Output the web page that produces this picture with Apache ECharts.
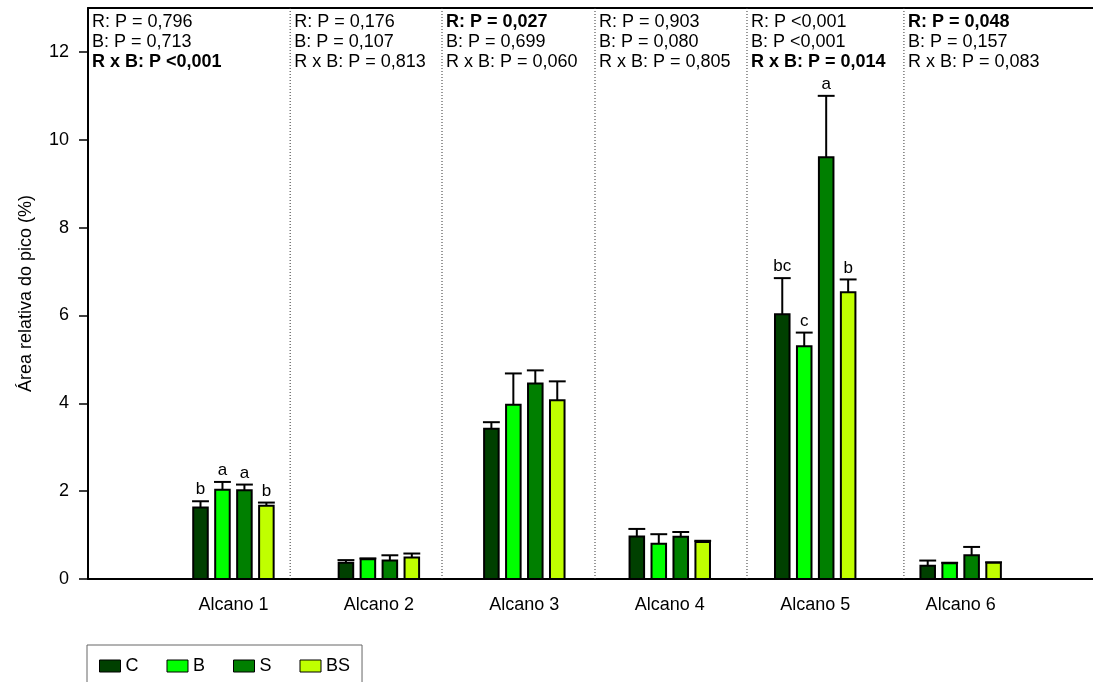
<!DOCTYPE html>
<html>
<head>
<meta charset="utf-8">
<script src="https://cdn.jsdelivr.net/npm/echarts@6/dist/echarts.min.js"></script>
<style>
  html, body { margin: 0; padding: 0; background: #fff; }
  #chart { width: 1093px; height: 682px; }
</style>
</head>
<body>
<div id="chart"></div>
<script>
// ---- data ----
const categories = ['Alcano 1', 'Alcano 2', 'Alcano 3', 'Alcano 4', 'Alcano 5', 'Alcano 6'];
const groups = ['C', 'B', 'S', 'BS'];

const meanC  = [1.63, 0.37, 3.42, 0.97, 6.03, 0.30];
const errC   = [0.14, 0.06, 0.15, 0.17, 0.82, 0.12];
const letterC  = ['b', '', '', '', 'bc', ''];

const meanB  = [2.03, 0.45, 3.97, 0.80, 5.30, 0.36];
const errB   = [0.18, 0.02, 0.71, 0.22, 0.31, 0.01];
const letterB  = ['a', '', '', '', 'c', ''];

const meanS  = [2.02, 0.42, 4.45, 0.96, 9.60, 0.54];
const errS   = [0.13, 0.12, 0.30, 0.11, 1.40, 0.19];
const letterS  = ['a', '', '', '', 'a', ''];

const meanBS = [1.67, 0.49, 4.07, 0.845, 6.53, 0.37];
const errBS  = [0.07, 0.09, 0.43, 0.025, 0.29, 0.01];
const letterBS = ['b', '', '', '', 'b', ''];

const pR   = ['R: P = 0,796', 'R: P = 0,176', 'R: P = 0,027', 'R: P = 0,903', 'R: P <0,001', 'R: P = 0,048'];
const pB   = ['B: P = 0,713', 'B: P = 0,107', 'B: P = 0,699', 'B: P = 0,080', 'B: P <0,001', 'B: P = 0,157'];
const pRxB = ['R x B: P <0,001', 'R x B: P = 0,813', 'R x B: P = 0,060', 'R x B: P = 0,805', 'R x B: P = 0,014', 'R x B: P = 0,083'];
const boldR   = [false, false, true, false, false, true];
const boldB   = [false, false, false, false, false, false];
const boldRxB = [true, false, false, false, true, false];

const yTicks = [0, 2, 4, 6, 8, 10, 12];

// ---- layout / style ----
const X_MIN = 0, X_MAX = 6.91, Y_MAX = 13;
const REGION_EDGES = [0, 1.39, 2.434, 3.486, 4.531, 5.61];
const PITCH = 0.151, BAR_W = 0.1, CAP_W = 0.116;
const COLORS = ['#004000', '#00ff00', '#007f00', '#c0ff00'];
const FONT = '"Liberation Sans", Arial, sans-serif';

function groupSeries(g, means, errs, letters) {
  return {
    type: 'custom',
    name: groups[g],
    itemStyle: { color: COLORS[g] },
    data: means.map((m, i) => [i + 1, m, errs[i]]),
    renderItem(params, api) {
      const x = api.value(0) + (g - 1.5) * PITCH;
      const m = api.value(1), e = api.value(2);
      const base = api.coord([x, 0]);
      const top = api.coord([x, m]);
      const cap = api.coord([x, m + e]);
      const w = api.size([BAR_W, 0])[0];
      const cw = api.size([CAP_W, 0])[0];
      const children = [
        { type: 'line', shape: { x1: cap[0], y1: top[1], x2: cap[0], y2: cap[1] },
          style: { stroke: '#000', lineWidth: 2 } },
        { type: 'line', shape: { x1: cap[0] - cw / 2, y1: cap[1], x2: cap[0] + cw / 2, y2: cap[1] },
          style: { stroke: '#000', lineWidth: 2 } },
        { type: 'rect', shape: { x: base[0] - w / 2, y: top[1], width: w, height: base[1] - top[1] },
          style: { fill: COLORS[g], stroke: '#000', lineWidth: 2 } }
      ];
      const lt = letters[params.dataIndex];
      if (lt) {
        children.push({ type: 'text', x: cap[0], y: cap[1] - 3,
          style: { text: lt, fill: '#000', font: '17px ' + FONT, align: 'center', verticalAlign: 'bottom' } });
      }
      return { type: 'group', children };
    }
  };
}

const separatorSeries = {
  type: 'custom',
  silent: true,
  data: REGION_EDGES.slice(1),
  renderItem(params, api) {
    const x = api.value(0);
    const p0 = api.coord([x, 0]);
    const p1 = api.coord([x, Y_MAX]);
    return { type: 'line', shape: { x1: p0[0], y1: p0[1], x2: p1[0], y2: p1[1] },
      style: { stroke: '#333', lineWidth: 1, lineDash: [1, 2] } };
  }
};

const notesSeries = {
  type: 'custom',
  silent: true,
  data: REGION_EDGES.map((e, i) => [e, i]),
  renderItem(params, api) {
    const i = params.dataIndex;
    const p = api.coord([api.value(0), Y_MAX]);
    const lines = [[pR[i], boldR[i]], [pB[i], boldB[i]], [pRxB[i], boldRxB[i]]];
    return {
      type: 'group',
      children: lines.map((ln, k) => ({
        type: 'text', x: p[0] + 4, y: p[1] + 5.5 + k * 20,
        style: { text: ln[0], fill: '#000', align: 'left', verticalAlign: 'top',
          font: (ln[1] ? 'bold ' : '') + '18px ' + FONT }
      }))
    };
  }
};

const chart = echarts.init(document.getElementById('chart'), null, { renderer: 'canvas' });
chart.setOption({
  animation: false,
  backgroundColor: '#fff',
  textStyle: { fontFamily: FONT, color: '#000' },
  grid: { left: 88, right: 0, top: 8, bottom: 103 },
  legend: {
    left: 87, top: 645,
    orient: 'horizontal',
    icon: 'rect',
    itemWidth: 21, itemHeight: 12, itemGap: 28,
    padding: [12, 12, 20, 12],
    borderColor: '#666', borderWidth: 1,
    textStyle: { fontSize: 18, color: '#000', fontFamily: FONT },
    data: groups.map((n, i) => ({ name: n, itemStyle: { color: COLORS[i], borderColor: '#000', borderWidth: 1 } }))
  },
  xAxis: [
    {
      type: 'value', min: X_MIN, max: X_MAX, position: 'bottom',
      axisLine: { show: true, onZero: false, lineStyle: { color: '#000', width: 2 } },
      axisTick: { show: false },
      splitLine: { show: false },
      axisLabel: {
        customValues: categories.map((c, i) => i + 1),
        formatter: v => categories[Math.round(v) - 1] || '',
        fontSize: 18, color: '#000', margin: 17
      }
    },
    {
      type: 'value', min: X_MIN, max: X_MAX, position: 'top',
      axisLine: { show: true, onZero: false, lineStyle: { color: '#000', width: 2 } },
      axisTick: { show: false }, axisLabel: { show: false }, splitLine: { show: false }
    }
  ],
  yAxis: {
    type: 'value', min: 0, max: Y_MAX,
    name: 'Área relativa do pico (%)',
    nameLocation: 'middle', nameRotate: 90, nameGap: 53,
    nameTextStyle: { fontSize: 18, color: '#000' },
    axisLine: { show: true, onZero: false, lineStyle: { color: '#000', width: 2 } },
    axisTick: { show: true, length: 9, customValues: yTicks, lineStyle: { color: '#000', width: 1.5 } },
    axisLabel: { customValues: yTicks, fontSize: 18, color: '#000', margin: 19 },
    splitLine: { show: false }
  },
  series: [
    separatorSeries,
    notesSeries,
    groupSeries(0, meanC, errC, letterC),
    groupSeries(1, meanB, errB, letterB),
    groupSeries(2, meanS, errS, letterS),
    groupSeries(3, meanBS, errBS, letterBS)
  ]
});
</script>
</body>
</html>
